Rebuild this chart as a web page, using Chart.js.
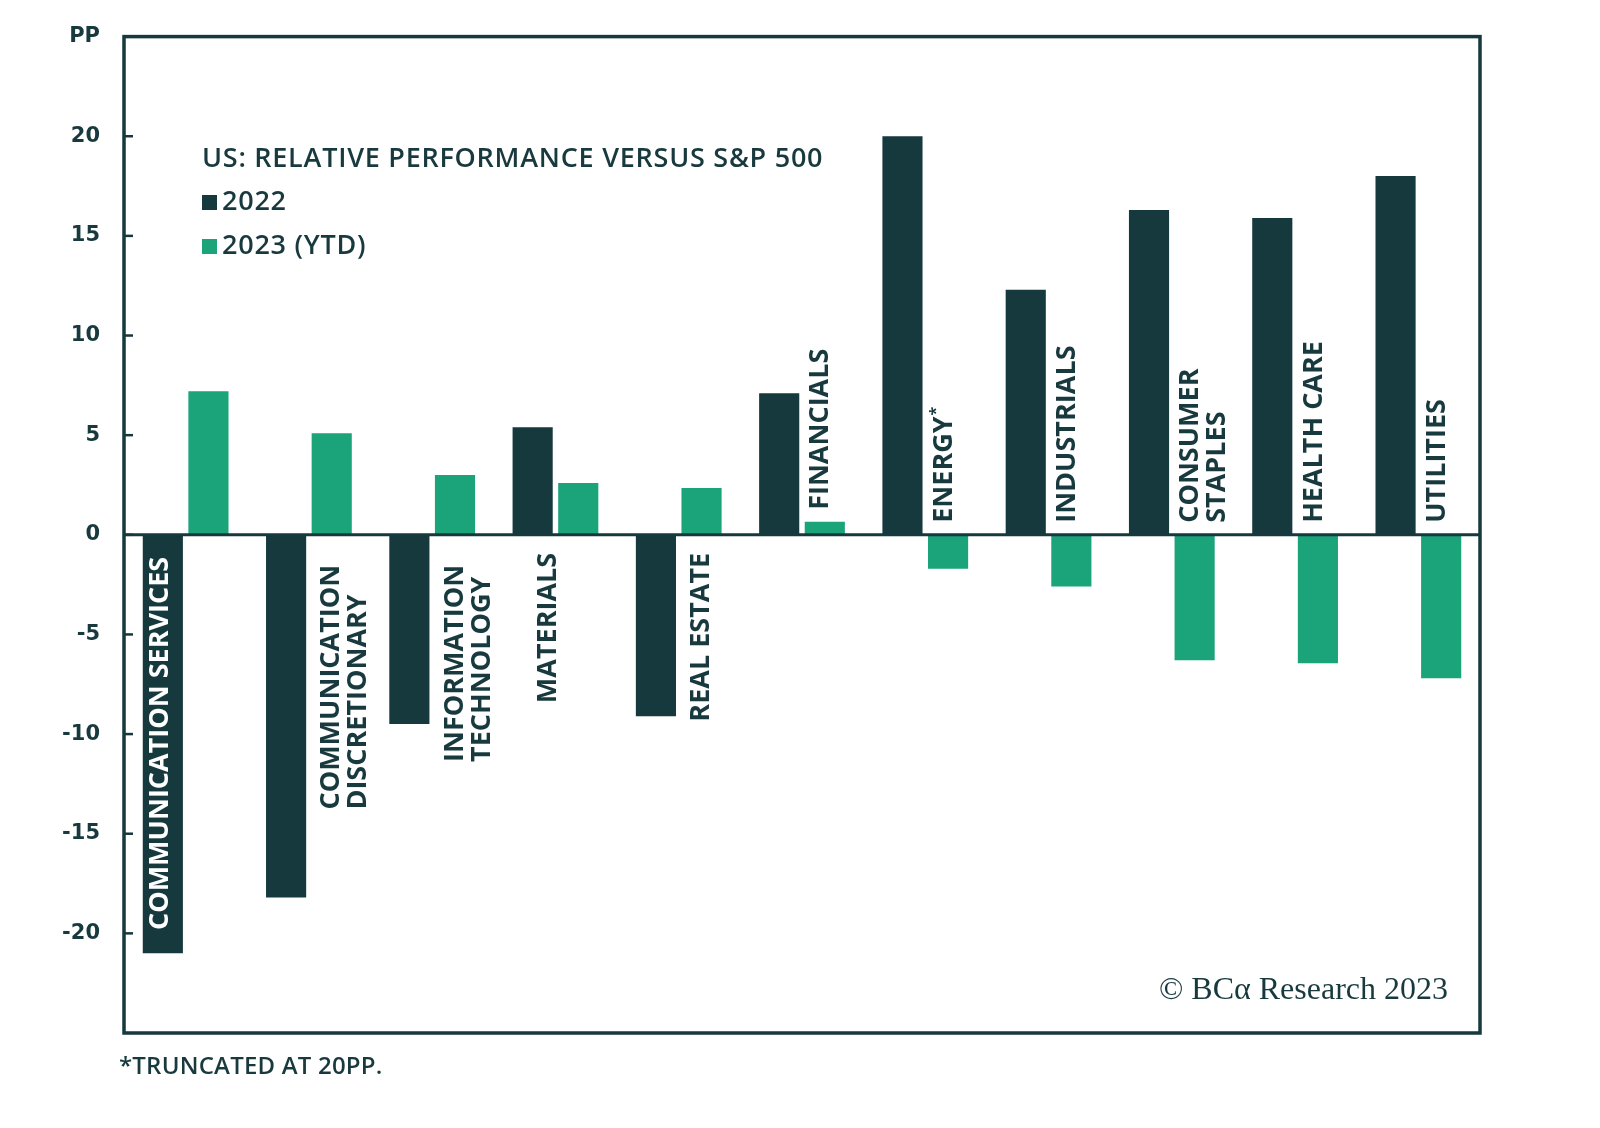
<!DOCTYPE html>
<html>
<head>
<meta charset="utf-8">
<script src="https://cdn.jsdelivr.net/npm/chart.js@4"></script>
<style>
  html, body { margin: 0; padding: 0; background: #ffffff; }
  #wrap { width: 1600px; height: 1128px; position: relative; }
</style>
</head>
<body>
<div id="wrap"><canvas id="c"></canvas></div>
<script>
// ---- data ----
const categories = [
  ['COMMUNICATION SERVICES'],
  ['COMMUNICATION', 'DISCRETIONARY'],
  ['INFORMATION', 'TECHNOLOGY'],
  ['MATERIALS'],
  ['REAL ESTATE'],
  ['FINANCIALS'],
  ['ENERGY*'],
  ['INDUSTRIALS'],
  ['CONSUMER', 'STAPLES'],
  ['HEALTH CARE'],
  ['UTILITIES']
];
const values2022 = [-21.0, -18.2, -9.5, 5.4, -9.1, 7.1, 20.0, 12.3, 16.3, 15.9, 18.0];
const values2023 = [7.2, 5.1, 3.0, 2.6, 2.35, 0.65, -1.7, -2.6, -6.3, -6.45, -7.2];
const seriesNames = ['2022', '2023 (YTD)'];
const yTicks = [-25, -20, -15, -10, -5, 0, 5, 10, 15, 20, 25];
const titleText = 'US: RELATIVE PERFORMANCE VERSUS S&P 500';
const footnoteText = '*TRUNCATED AT 20PP.';
const copyrightText = '\u00A9 BC\u03B1 Research 2023';
const axisUnit = 'PP';

const DARK = '#15393d';
const GREEN = '#1ba37a';
const TEXT = '#183a3e';
const SANS = "'Open Sans', Roboto, 'Liberation Sans', Arial, sans-serif";
const WIDE = "'DejaVu Sans', 'Open Sans', sans-serif";

const decor = {
  id: 'decor',
  afterDatasetsDraw(chart) {
    const ctx = chart.ctx;
    const a = chart.chartArea;
    const y = chart.scales.y;
    const y0 = y.getPixelForValue(0);
    ctx.save();
    // zero line
    ctx.strokeStyle = DARK;
    ctx.lineWidth = 3;
    ctx.beginPath();
    ctx.moveTo(a.left, y0);
    ctx.lineTo(a.right, y0);
    ctx.stroke();
    // inward tick marks
    ctx.lineWidth = 2.5;
    yTicks.forEach(v => {
      if (v === y.min || v === y.max) return;
      const py = y.getPixelForValue(v);
      ctx.beginPath();
      ctx.moveTo(a.left, py);
      ctx.lineTo(a.left + 9, py);
      ctx.stroke();
    });
    // frame
    ctx.lineWidth = 3.5;
    ctx.strokeRect(a.left, a.top, a.right - a.left, a.bottom - a.top);

    // category labels (rotated)
    const m0 = chart.getDatasetMeta(0);
    const m1 = chart.getDatasetMeta(1);
    const fontPx = 27;
    const lineH = 27;
    const mainFont = `700 ${fontPx}px ${SANS}`;
    const supFont = `700 ${Math.round(fontPx * 0.6)}px ${SANS}`;
    ctx.font = mainFont;
    ctx.textBaseline = 'middle';
    ctx.textAlign = 'left';
    categories.forEach((lines, i) => {
      const v0 = values2022[i], v1 = values2023[i];
      const b0 = m0.data[i], b1 = m1.data[i];
      const widths = lines.map(l => ctx.measureText(l).width);
      const maxW = Math.max(...widths);
      const barLen = Math.abs(b0.y - y0);
      let x, yStart, color = TEXT;
      if (v0 < 0) {
        // label below the zero line
        if (lines.length === 1 && barLen > maxW + 40) {
          x = b0.x - 3; color = '#ffffff';
          yStart = y0 + 22 + maxW;
        } else {
          const target = (v1 < 0) ? b0 : b1;
          x = target.x;
          yStart = y0 + 18 + 12 * (lines.length - 1) + maxW;
        }
      } else if (v1 > 2) {
        // both bars clearly above zero: label sits below zero between them
        x = (b0.x + b1.x) / 2 - 7;
        yStart = y0 + 18 + maxW;
      } else {
        x = b1.x - 4;
        const topAt = v1 > 0 ? b1.y : y0;
        yStart = Math.min(topAt, y0) - 12;
      }
      ctx.fillStyle = color;
      lines.forEach((l, k) => {
        ctx.save();
        ctx.translate(x + k * lineH, yStart);
        ctx.rotate(-Math.PI / 2);
        if (l.endsWith('*')) {
          const main = l.slice(0, -1);
          ctx.font = mainFont;
          ctx.fillText(main, 0, 0);
          const w = ctx.measureText(main).width;
          ctx.font = supFont;
          ctx.fillText('*', w + 1, -fontPx * 0.28);
          ctx.font = mainFont;
        } else {
          ctx.fillText(l, 0, 0);
        }
        ctx.restore();
      });
    });

    // title + legend
    ctx.fillStyle = TEXT;
    ctx.textAlign = 'left';
    ctx.textBaseline = 'middle';
    ctx.letterSpacing = '0.75px';
    ctx.font = `600 27px ${SANS}`;
    ctx.fillText(titleText, 202, 159);
    const legendY = [202, 246];
    chart.data.datasets.forEach((ds, k) => {
      ctx.fillStyle = ds.backgroundColor;
      ctx.fillRect(202, legendY[k] - 7, 15, 15);
      ctx.fillStyle = TEXT;
      ctx.font = `600 27px ${SANS}`;
      ctx.fillText(ds.label, 222, legendY[k]);
    });

    // copyright
    ctx.letterSpacing = '0px';
    ctx.font = `32px 'Liberation Serif', 'DejaVu Serif', serif`;
    ctx.textAlign = 'right';
    ctx.textBaseline = 'alphabetic';
    ctx.fillText(copyrightText, 1448, 999);

    // footnote
    ctx.letterSpacing = '0.2px';
    ctx.font = `600 24px ${SANS}`;
    ctx.textAlign = 'left';
    ctx.textBaseline = 'middle';
    ctx.fillText(footnoteText, 119, 1067);
    ctx.letterSpacing = '0px';
    ctx.restore();
  }
};

new Chart(document.getElementById('c'), {
  type: 'bar',
  data: {
    labels: categories.map(l => l.join(' ')),
    datasets: [
      { label: seriesNames[0], data: values2022, backgroundColor: DARK, borderWidth: 0,
        categoryPercentage: 0.74, barPercentage: 0.88 },
      { label: seriesNames[1], data: values2023, backgroundColor: GREEN, borderWidth: 0,
        categoryPercentage: 0.74, barPercentage: 0.88 }
    ]
  },
  options: {
    responsive: true,
    maintainAspectRatio: false,
    animation: false,
    layout: { padding: { top: 34, right: 120, bottom: 95, left: 0 } },
    plugins: { legend: { display: false }, tooltip: { enabled: false } },
    scales: {
      x: { display: false },
      y: {
        min: yTicks[0], max: yTicks[yTicks.length - 1],
        afterFit(scale) { scale.width = 124; },
        afterBuildTicks(scale) { scale.ticks = yTicks.map(v => ({ value: v })); },
        border: { display: false },
        grid: { display: false, drawTicks: false },
        ticks: {
          padding: 24,
          color: TEXT,
          font: { family: WIDE, size: 21, weight: '700' },
          callback(v) {
            if (v === yTicks[yTicks.length - 1]) return axisUnit;
            if (v === yTicks[0]) return '';
            return String(v);
          }
        }
      }
    }
  },
  plugins: [decor]
});
</script>
</body>
</html>
